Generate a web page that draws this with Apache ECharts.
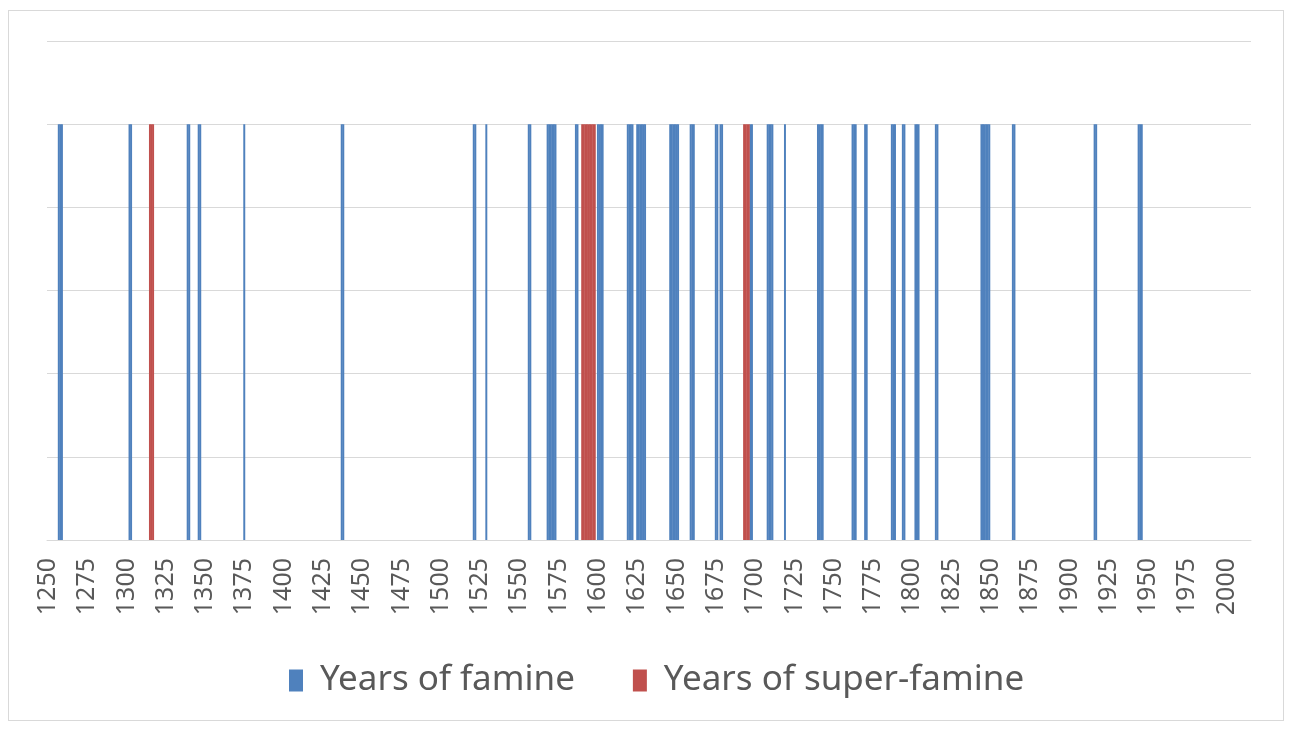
<!DOCTYPE html>
<html>
<head>
<meta charset="utf-8">
<title>Years of famine</title>
<script src="https://cdn.jsdelivr.net/npm/echarts@6/dist/echarts.min.js"></script>
<style>
    html, body { margin: 0; padding: 0; background: #fff; }
    #frame { position: absolute; left: 8px; top: 10px; width: 1274px; height: 709px; border: 1px solid #d9d9d9; }
    #chart { position: absolute; left: 0; top: 0; width: 1291px; height: 729px; }
</style>
</head>
<body>
<div id="frame"></div>
<div id="chart"></div>
<script>
/* 数据：年份轴与饥荒年份 */
var firstYear = 1250;
var lastYear = 2015;

var famineYears = [
    1257, 1258, 1259, 1302, 1303, 1339, 1340, 1346, 1347, 1375, 1437, 1438,
    1521, 1522, 1529, 1556, 1557, 1568, 1569, 1570, 1571, 1572, 1573, 1586, 1587,
    1600, 1601, 1602, 1603, 1619, 1620, 1621, 1622, 1625, 1626, 1627, 1628, 1629, 1630,
    1646, 1647, 1648, 1649, 1650, 1651, 1659, 1660, 1661, 1675, 1676, 1678, 1679,
    1697, 1698, 1708, 1709, 1710, 1711, 1719, 1740, 1741, 1742, 1743,
    1762, 1763, 1764, 1770, 1771, 1787, 1788, 1789, 1794, 1795, 1802, 1803, 1804,
    1815, 1816, 1844, 1845, 1846, 1847, 1848, 1849, 1864, 1865, 1916, 1917,
    1944, 1945, 1946
];

var superFamineYears = [
    1315, 1316, 1317,
    1590, 1591, 1592, 1593, 1594, 1595, 1596, 1597, 1598,
    1693, 1694, 1695, 1696
];

var seriesNames = ['Years of famine', 'Years of super-famine'];
var seriesColors = ['#4f81bd', '#c0504d'];

var ChartOper = function () {

    var buildCategories = function () {
        var cats = [];
        for (var y = firstYear; y <= lastYear; y++) {
            cats.push(String(y));
        }
        return cats;
    }

    // 把年份列表转成每个类目上的柱值
    var toSeriesData = function (categories, years) {
        return categories.map(function (c) {
            return years.indexOf(Number(c)) >= 0 ? 1 : '-';
        });
    }

    var getOption = function () {
        var categories = buildCategories();
        return {
            animation: false,
            textStyle: { fontFamily: 'Noto Sans' },
            grid: {
                left: 47,
                right: 40,
                top: 41,
                bottom: 189,
                containLabel: false
            },
            legend: {
                bottom: 26,
                left: 284,
                itemWidth: 14,
                itemHeight: 22,
                itemGap: 58,
                icon: 'rect',
                textStyle: {
                    fontSize: 35,
                    color: '#595959',
                    fontFamily: 'Noto Sans',
                    padding: [0, 0, 0, 12]
                },
                data: seriesNames
            },
            xAxis: {
                type: 'category',
                data: categories,
                boundaryGap: true,
                axisLine: { lineStyle: { color: '#d9d9d9', width: 1 } },
                axisTick: { show: false },
                axisLabel: {
                    interval: 24,
                    rotate: 90,
                    margin: 18,
                    fontSize: 25,
                    color: '#595959',
                    fontFamily: 'Noto Sans'
                },
                splitLine: { show: false }
            },
            yAxis: {
                type: 'value',
                min: 0,
                max: 1.2,
                interval: 0.2,
                axisLabel: { show: false },
                axisLine: { show: false },
                axisTick: { show: false },
                splitLine: { lineStyle: { color: '#d9d9d9', width: 1 } }
            },
            series: [
                {
                    name: seriesNames[0],
                    type: 'bar',
                    data: toSeriesData(categories, famineYears),
                    itemStyle: { color: seriesColors[0] },
                    barCategoryGap: '-25%',
                    barGap: '-100%'
                },
                {
                    name: seriesNames[1],
                    type: 'bar',
                    data: toSeriesData(categories, superFamineYears),
                    itemStyle: { color: seriesColors[1] },
                    barCategoryGap: '-25%',
                    barGap: '-100%'
                }
            ]
        };
    }

    return {
        init: function () {
            var myChart = echarts.init(document.getElementById('chart'));
            myChart.setOption(getOption());
        }
    }
}();

ChartOper.init();
</script>
</body>
</html>
